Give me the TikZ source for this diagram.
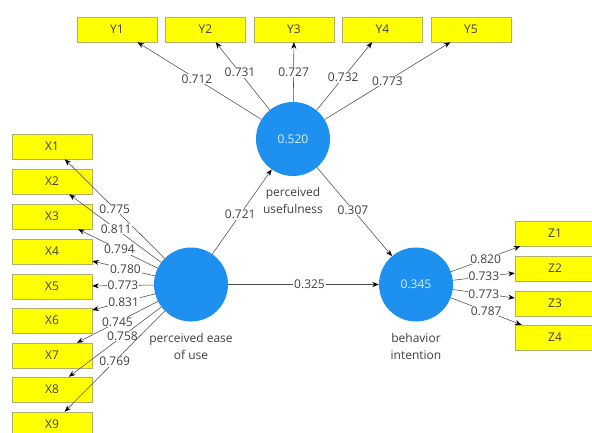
\documentclass[tikz,border=0pt]{standalone}
\usepackage{fontspec}
\setmainfont{Open Sans}
\usetikzlibrary{arrows.meta}
\definecolor{lvblue}{RGB}{30,144,240}
\definecolor{indyel}{RGB}{255,255,0}
\definecolor{indborder}{RGB}{175,175,110}
\definecolor{txtgray}{RGB}{64,64,64}
\definecolor{lvtext}{RGB}{215,240,255}
\begin{document}
\begin{tikzpicture}[x=1pt,y=-1pt,
  lv/.style={circle, fill=lvblue, draw=none, minimum size=74pt, inner sep=0pt,
    text=lvtext, font=\fontsize{12}{14}\selectfont},
  ind/.style={rectangle, fill=indyel, draw=indborder, line width=0.5pt,
    minimum width=80pt, minimum height=25pt, inner sep=0pt,
    text=txtgray, font=\fontsize{12}{14}\selectfont},
  conn/.style={draw=black!70, line width=0.55pt,
    -{Stealth[length=6.5pt,width=5pt,color=black]}},
  wt/.style={fill=white, inner sep=0.8pt, text=txtgray,
    font=\fontsize{12}{14}\selectfont},
  lvlabel/.style={text=txtgray, align=center, inner sep=0pt,
    font=\fontsize{12}{17}\selectfont, label distance=11pt}
]
\fill[white] (0,0) rectangle (592,432);
\useasboundingbox (0,0) rectangle (592,432);

% latent variables
\node[lv, label={[lvlabel]below:perceived\\usefulness}] (pu) at (293,139) {0.520};
\node[lv, label={[lvlabel]below:perceived ease\\of use}] (peou) at (191,284.5) {};
\node[lv, label={[lvlabel]below:behavior\\intention}] (bi) at (416,284.5) {0.345};

% Y indicators
\node[ind] (y1) at (117,29.5) {Y1};
\node[ind] (y2) at (205.5,29.5) {Y2};
\node[ind] (y3) at (294,29.5) {Y3};
\node[ind] (y4) at (382.5,29.5) {Y4};
\node[ind] (y5) at (471,29.5) {Y5};

% X indicators
\node[ind] (x1) at (52,146.5) {X1};
\node[ind] (x2) at (52,181.5) {X2};
\node[ind] (x3) at (52,216.5) {X3};
\node[ind] (x4) at (52,251.5) {X4};
\node[ind] (x5) at (52,286.5) {X5};
\node[ind] (x6) at (52,320.5) {X6};
\node[ind] (x7) at (52,355.5) {X7};
\node[ind] (x8) at (52,389.5) {X8};
\node[ind] (x9) at (52,424.5) {X9};

% Z indicators
\node[ind] (z1) at (555,233.5) {Z1};
\node[ind] (z2) at (555,268.5) {Z2};
\node[ind] (z3) at (555,303.5) {Z3};
\node[ind] (z4) at (555,337.5) {Z4};

% outer loadings: perceived usefulness
\draw[conn] (pu) -- node[wt, pos=0.52] {0.712} (y1);
\draw[conn] (pu) -- node[wt, pos=0.55] {0.731} (y2);
\draw[conn] (pu) -- node[wt] {0.727} (y3);
\draw[conn] (pu) -- node[wt, pos=0.48] {0.732} (y4);
\draw[conn] (pu) -- node[wt] {0.773} (y5);

% outer loadings: perceived ease of use
\draw[conn] (peou) -- node[wt, pos=0.5] {0.775} (x1);
\draw[conn] (peou) -- node[wt, pos=0.49] {0.811} (x2);
\draw[conn] (peou) -- node[wt, pos=0.48] {0.794} (x3);
\draw[conn] (peou) -- node[wt, pos=0.47] {0.780} (x4);
\draw[conn] (peou) -- node[wt, pos=0.5] {0.773} (x5);
\draw[conn] (peou) -- node[wt, pos=0.5] {0.831} (x6);
\draw[conn] (peou) -- node[wt, pos=0.5] {0.745} (x7);
\draw[conn] (peou) -- node[wt, pos=0.42] {0.758} (x8);
\draw[conn] (peou) -- node[wt, pos=0.5] {0.769} (x9);

% outer loadings: behavior intention
\draw[conn] (bi) -- node[wt] {0.820} (z1);
\draw[conn] (bi) -- node[wt] {0.733} (z2);
\draw[conn] (bi) -- node[wt] {0.773} (z3);
\draw[conn] (bi) -- node[wt] {0.787} (z4);

% path coefficients
\draw[conn] (peou) -- node[wt, pos=0.47] {0.721} (pu);
\draw[conn] (pu) -- node[wt, pos=0.48] {0.307} (bi);
\draw[conn] (peou) -- node[wt, pos=0.54] {0.325} (bi);
\end{tikzpicture}
\end{document}
